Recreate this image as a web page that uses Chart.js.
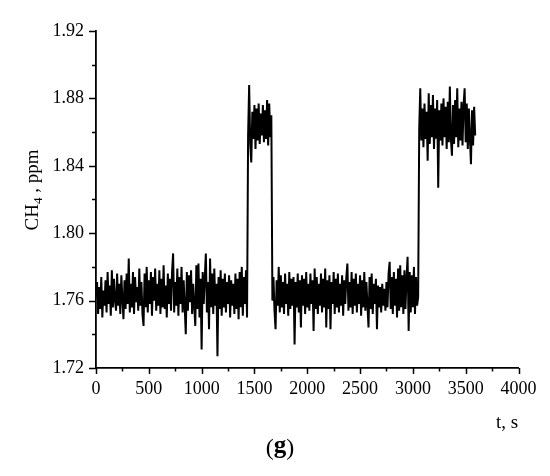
<!DOCTYPE html>
<html>
<head>
<meta charset="utf-8">
<script src="https://cdn.jsdelivr.net/npm/chart.js@4"></script>
<style>
  html, body { margin: 0; padding: 0; background: #fff; }
  #wrap { width: 550px; height: 476px; position: relative; }
</style>
</head>
<body>
<div id="wrap"><canvas id="chart-ch4"></canvas></div>
<script>
/* ── data: CH4 (ppm), one reading every 10 s ── */
const STEP = 10;

// background air, 0 … 1430 s
const baseA = [
  1.762, 1.771, 1.752, 1.768, 1.755, 1.774, 1.750, 1.766, 1.757, 1.772,
  1.753, 1.777, 1.758, 1.769, 1.751, 1.778, 1.756, 1.773, 1.760, 1.754,
  1.776, 1.757, 1.770, 1.752, 1.775, 1.761, 1.749, 1.772, 1.755, 1.776,
  1.758, 1.785, 1.753, 1.770, 1.756, 1.777, 1.752, 1.774, 1.759, 1.768,
  1.754, 1.779, 1.757, 1.771, 1.752, 1.745, 1.776, 1.756, 1.780, 1.753,
  1.772, 1.758, 1.777, 1.751, 1.774, 1.760, 1.779, 1.754, 1.770, 1.757,
  1.778, 1.752, 1.773, 1.756, 1.781, 1.755, 1.769, 1.750, 1.776, 1.758,
  1.773, 1.754, 1.777, 1.788, 1.753, 1.771, 1.757, 1.779, 1.751, 1.774,
  1.758, 1.780, 1.753, 1.772, 1.756, 1.740, 1.777, 1.754, 1.775, 1.759,
  1.778, 1.752, 1.770, 1.757, 1.745, 1.781, 1.755, 1.782, 1.750, 1.773,
  1.731, 1.777, 1.758, 1.774, 1.788, 1.753, 1.771, 1.743, 1.785, 1.756,
  1.776, 1.752, 1.779, 1.757, 1.770, 1.727, 1.774, 1.755, 1.778, 1.751,
  1.773, 1.756, 1.776, 1.753, 1.771, 1.758, 1.775, 1.750, 1.772, 1.757,
  1.770, 1.752, 1.776, 1.755, 1.773, 1.749, 1.777, 1.756, 1.780, 1.751,
  1.774, 1.758, 1.778, 1.750
];
// first release, 1440 … 1660 s
const peakA = [
  1.858, 1.888, 1.853, 1.842, 1.872, 1.856, 1.876, 1.850, 1.874, 1.855,
  1.877, 1.853, 1.871, 1.858, 1.876, 1.854, 1.873, 1.856, 1.879, 1.852,
  1.877, 1.857, 1.870
];
// background air, 1670 … 3050 s
const baseB = [
  1.760, 1.774, 1.754, 1.743, 1.772, 1.757, 1.780, 1.753, 1.775, 1.756,
  1.771, 1.752, 1.776, 1.758, 1.770, 1.751, 1.777, 1.755, 1.773, 1.757,
  1.774, 1.734, 1.771, 1.756, 1.776, 1.753, 1.772, 1.744, 1.775, 1.757,
  1.773, 1.752, 1.777, 1.756, 1.770, 1.754, 1.776, 1.758, 1.772, 1.742,
  1.779, 1.755, 1.774, 1.752, 1.770, 1.757, 1.776, 1.753, 1.773, 1.756,
  1.779, 1.744, 1.772, 1.755, 1.775, 1.743, 1.771, 1.758, 1.777, 1.752,
  1.773, 1.756, 1.776, 1.753, 1.770, 1.757, 1.775, 1.751, 1.772, 1.758,
  1.774, 1.782, 1.754, 1.771, 1.756, 1.777, 1.752, 1.773, 1.757, 1.776,
  1.753, 1.770, 1.758, 1.775, 1.751, 1.772, 1.756, 1.777, 1.754, 1.771,
  1.757, 1.744, 1.774, 1.755, 1.776, 1.752, 1.770, 1.758, 1.773, 1.743,
  1.769, 1.756, 1.768, 1.753, 1.770, 1.757, 1.767, 1.754, 1.771, 1.756,
  1.776, 1.783, 1.755, 1.774, 1.752, 1.777, 1.757, 1.773, 1.750, 1.779,
  1.754, 1.781, 1.756, 1.775, 1.752, 1.778, 1.755, 1.774, 1.786, 1.742,
  1.777, 1.753, 1.775, 1.756, 1.780, 1.752, 1.774, 1.757, 1.762
];
// second release, 3060 … 3590 s
const peakB = [
  1.862, 1.886, 1.855, 1.874, 1.851, 1.877, 1.856, 1.872, 1.843, 1.883,
  1.853, 1.876, 1.857, 1.882, 1.850, 1.874, 1.856, 1.879, 1.827, 1.873,
  1.855, 1.877, 1.852, 1.880, 1.857, 1.875, 1.850, 1.878, 1.854, 1.887,
  1.856, 1.846, 1.876, 1.853, 1.879, 1.857, 1.886, 1.851, 1.874, 1.855,
  1.878, 1.852, 1.876, 1.886, 1.854, 1.877, 1.850, 1.874, 1.856, 1.841,
  1.873, 1.852, 1.875, 1.858
];
const segmentStarts = [0, 1440, 1670, 3060];

const xTickLabels = ['0', '500', '1000', '1500', '2000', '2500', '3000', '3500', '4000'];
const yTickLabels = ['1.72', '1.76', '1.80', '1.84', '1.88', '1.92'];

/* ── build the point list ── */
const points = [];
[baseA, peakA, baseB, peakB].forEach((seg, s) => {
  seg.forEach((v, i) => points.push({ x: segmentStarts[s] + i * STEP, y: v }));
});

const SERIF = '"Liberation Serif", "Times New Roman", serif';

// minor + major tick marks, drawn outward like the original plot
const tickMarks = {
  id: 'tickMarks',
  afterDraw(chart) {
    const { ctx, chartArea } = chart;
    const xs = chart.scales.x, ys = chart.scales.y;
    ctx.save();
    ctx.strokeStyle = '#000';
    ctx.lineWidth = 1.5;
    ctx.beginPath();
    xs.ticks.forEach(t => {
      const px = Math.round(xs.getPixelForValue(t.value)) + 0.5;
      const len = xTickLabels.includes(String(t.value)) ? 6 : 3.5;
      ctx.moveTo(px, chartArea.bottom);
      ctx.lineTo(px, chartArea.bottom + len);
    });
    ys.ticks.forEach(t => {
      const py = Math.round(ys.getPixelForValue(t.value)) + 0.5;
      const len = yTickLabels.includes(t.value.toFixed(2)) ? 7 : 4;
      ctx.moveTo(chartArea.left, py);
      ctx.lineTo(chartArea.left - len, py);
    });
    ctx.stroke();
    ctx.restore();
  }
};

// axis titles and panel letter
const titles = {
  id: 'titles',
  afterDraw(chart) {
    const { ctx } = chart;
    ctx.save();
    ctx.fillStyle = '#000';
    ctx.textBaseline = 'alphabetic';

    // y title: CH4 , ppm (rotated, with subscript)
    const big = '19px ' + SERIF, small = '13px ' + SERIF;
    ctx.font = big;
    const wCH = ctx.measureText('CH').width;
    const wRest = ctx.measureText(' , ppm').width;
    ctx.font = small;
    const wSub = ctx.measureText('4').width;
    const total = wCH + wSub + wRest;
    ctx.translate(38, 190);
    ctx.rotate(-Math.PI / 2);
    let lx = -total / 2;
    ctx.font = big;
    ctx.textAlign = 'left';
    ctx.fillText('CH', lx, 0);
    lx += wCH;
    ctx.font = small;
    ctx.fillText('4', lx, 4);
    lx += wSub;
    ctx.font = big;
    ctx.fillText(' , ppm', lx, 0);
    ctx.setTransform(1, 0, 0, 1, 0, 0);

    // x title
    ctx.font = '19px ' + SERIF;
    ctx.textAlign = 'center';
    ctx.fillText('t, s', 507, 428);

    // panel letter (g): plain brackets, bold letter
    const plain = '24px ' + SERIF, bold = 'bold 25px ' + SERIF;
    ctx.font = plain;
    const wP = ctx.measureText('(').width;
    ctx.font = bold;
    const wG = ctx.measureText('g').width;
    let gx = 280 - (2 * wP + wG) / 2;
    ctx.textAlign = 'left';
    ctx.font = plain;
    ctx.fillText('(', gx, 455);
    gx += wP;
    ctx.font = bold;
    ctx.fillText('g', gx, 453);
    gx += wG;
    ctx.font = plain;
    ctx.fillText(')', gx, 455);
    ctx.restore();
  }
};

new Chart(document.getElementById('chart-ch4'), {
  type: 'line',
  data: {
    datasets: [{
      data: points,
      borderColor: '#000',
      borderWidth: 2,
      pointRadius: 0,
      tension: 0,
      fill: false,
    }]
  },
  options: {
    responsive: true,
    maintainAspectRatio: false,
    animation: false,
    events: [],
    layout: { padding: { top: 31, right: 31.5, left: 0, bottom: 0 } },
    plugins: { legend: { display: false }, tooltip: { enabled: false } },
    scales: {
      x: {
        type: 'linear',
        min: 0, max: 4000,
        afterFit: s => { s.height = 108; },
        afterBuildTicks: s => { s.ticks = Array.from({ length: 17 }, (_, i) => ({ value: i * 250 })); },
        ticks: {
          autoSkip: false,
          maxRotation: 0,
          padding: 10,
          color: '#000',
          font: { family: SERIF, size: 18 },
          callback: v => xTickLabels.includes(String(v)) ? String(v) : ''
        },
        grid: { display: true, drawOnChartArea: false, drawTicks: false },
        border: { display: true, color: '#000', width: 1.8 }
      },
      y: {
        min: 1.72, max: 1.92,
        afterFit: s => { s.width = 96; },
        afterBuildTicks: s => { s.ticks = Array.from({ length: 11 }, (_, i) => ({ value: 1.72 + i * 0.02 })); },
        ticks: {
          autoSkip: false,
          padding: 12,
          color: '#000',
          font: { family: SERIF, size: 18 },
          callback: v => yTickLabels.includes(v.toFixed(2)) ? v.toFixed(2) : ''
        },
        grid: { display: true, drawOnChartArea: false, drawTicks: false },
        border: { display: true, color: '#000', width: 1.8 }
      }
    }
  },
  plugins: [tickMarks, titles]
});
</script>
</body>
</html>
